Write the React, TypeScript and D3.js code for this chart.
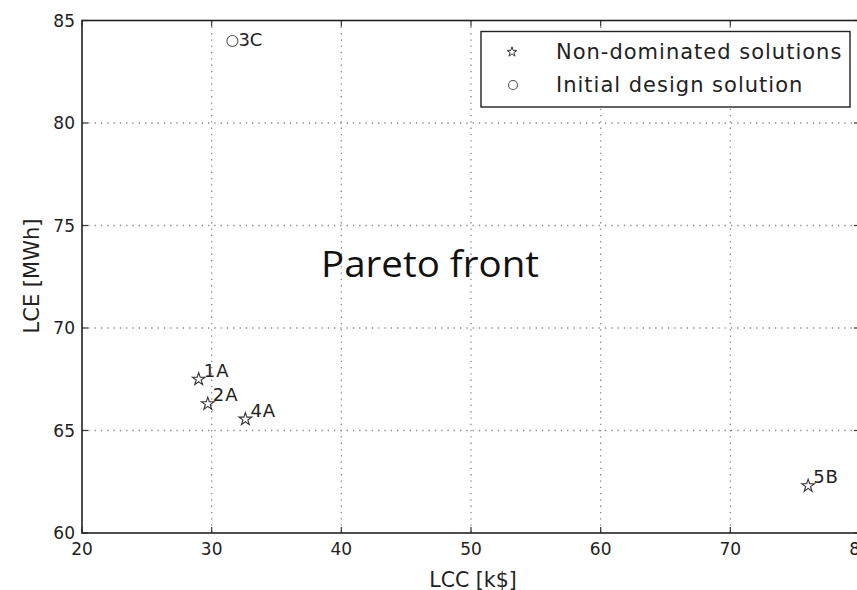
import React, { useEffect, useRef } from 'react';
import * as d3 from 'd3';

// solutions
const solutionLabels = ['1A', '2A', '4A', '5B'];
const lccValues = [29.0, 29.7, 32.6, 76.0];
const lceValues = [67.5, 66.3, 65.55, 62.3];

const initialLabels = ['3C'];
const initialLcc = [31.6];
const initialLce = [84.0];

const xTicks = [20, 30, 40, 50, 60, 70, 80];
const yTicks = [60, 65, 70, 75, 80, 85];

const W = 857;
const H = 590;

const App = () => {
    const ref = useRef<SVGSVGElement | null>(null);

    useEffect(() => {
        if (!ref.current) return;
        const svg = d3.select(ref.current);
        svg.selectAll('*').remove();

        const left = 82, top = 20.5, right = 860, bottom = 533;
        const x = d3.scaleLinear().domain([20, 80]).range([left, right]);
        const y = d3.scaleLinear().domain([60, 85]).range([bottom, top]);
        const font = '"DejaVu Sans", sans-serif';

        // dotted grid
        const grid = svg.append('g').attr('stroke', '#888').attr('stroke-width', 1.3)
            .attr('stroke-dasharray', '1.3,5');
        grid.selectAll('.gx').data(xTicks.slice(1, -1)).enter().append('line')
            .attr('x1', d => x(d)).attr('x2', d => x(d)).attr('y1', top).attr('y2', bottom);
        grid.selectAll('.gy').data(yTicks.slice(1, -1)).enter().append('line')
            .attr('y1', d => y(d)).attr('y2', d => y(d)).attr('x1', left).attr('x2', right);

        // inward ticks on all sides
        const ticks = svg.append('g').attr('stroke', '#333').attr('stroke-width', 1.2);
        xTicks.forEach(t => {
            ticks.append('line').attr('x1', x(t)).attr('x2', x(t)).attr('y1', bottom).attr('y2', bottom - 6);
            ticks.append('line').attr('x1', x(t)).attr('x2', x(t)).attr('y1', top).attr('y2', top + 6);
        });
        yTicks.forEach(t => {
            ticks.append('line').attr('y1', y(t)).attr('y2', y(t)).attr('x1', left).attr('x2', left + 6);
            ticks.append('line').attr('y1', y(t)).attr('y2', y(t)).attr('x1', right).attr('x2', right - 6);
        });

        // frame
        svg.append('rect').attr('x', left).attr('y', top)
            .attr('width', right - left).attr('height', bottom - top)
            .attr('fill', 'none').attr('stroke', '#222').attr('stroke-width', 1.6);

        // tick labels
        svg.append('g').selectAll('text').data(xTicks).enter().append('text')
            .attr('x', d => x(d)).attr('y', bottom + 22)
            .attr('text-anchor', 'middle').attr('font-family', font).attr('font-size', 17)
            .attr('fill', '#222').text(d => d);
        svg.append('g').selectAll('text').data(yTicks).enter().append('text')
            .attr('x', left - 7).attr('y', d => y(d) + 6.2)
            .attr('text-anchor', 'end').attr('font-family', font).attr('font-size', 17)
            .attr('fill', '#222').text(d => d);

        // axis titles
        svg.append('text').attr('x', 473).attr('y', 586.5).attr('text-anchor', 'middle')
            .attr('font-family', font).attr('font-size', 20.5).attr('fill', '#222').text('LCC [k$]');
        svg.append('text').attr('transform', 'translate(39,276) rotate(-90)')
            .attr('text-anchor', 'middle').attr('font-family', font).attr('font-size', 21)
            .attr('fill', '#222').text('LCE [MWh]');

        const star = d3.symbol().type(d3.symbolStar).size(50);

        // non-dominated solutions
        const pts = svg.append('g');
        lccValues.forEach((v, i) => {
            pts.append('path').attr('d', star()).attr('transform', `translate(${x(v)},${y(lceValues[i])})`)
                .attr('fill', 'white').attr('stroke', '#333').attr('stroke-width', 1.1);
            pts.append('text').attr('x', x(v) + 5).attr('y', y(lceValues[i]) - 2.6)
                .attr('font-family', font).attr('font-size', 18).attr('letter-spacing', 1)
                .attr('fill', '#222').text(solutionLabels[i]);
        });

        // initial design
        initialLcc.forEach((v, i) => {
            pts.append('circle').attr('cx', x(v)).attr('cy', y(initialLce[i])).attr('r', 5.5)
                .attr('fill', 'white').attr('stroke', '#555').attr('stroke-width', 1.1);
            pts.append('text').attr('x', x(v) + 6).attr('y', y(initialLce[i]) + 4.7)
                .attr('font-family', font).attr('font-size', 18).attr('fill', '#222')
                .text(initialLabels[i]);
        });

        // annotation
        svg.append('text').attr('transform', 'translate(321,276.5) scale(1.07,1)')
            .attr('font-family', '"Open Sans", sans-serif').attr('font-size', 36)
            .attr('fill', '#111').text('Pareto front');

        // legend
        const lg = svg.append('g');
        lg.append('rect').attr('x', 481).attr('y', 31.5).attr('width', 369).attr('height', 75.5)
            .attr('fill', 'white').attr('stroke', '#222').attr('stroke-width', 1.4);
        lg.append('path').attr('d', d3.symbol().type(d3.symbolStar).size(30)())
            .attr('transform', 'translate(512,52)').attr('fill', 'white').attr('stroke', '#333');
        lg.append('circle').attr('cx', 513).attr('cy', 85).attr('r', 4.5)
            .attr('fill', 'white').attr('stroke', '#555').attr('stroke-width', 1.1);
        lg.append('text').attr('x', 556).attr('y', 59).attr('font-family', font)
            .attr('font-size', 21).attr('letter-spacing', 1).attr('fill', '#222')
            .text('Non-dominated solutions');
        lg.append('text').attr('x', 556).attr('y', 91.7).attr('font-family', font)
            .attr('font-size', 21).attr('letter-spacing', 1).attr('fill', '#222')
            .text('Initial design solution');
    }, []);

    return (
        <svg ref={ref} width={W} height={H}
            style={{ position: 'absolute', left: 0, top: 0, background: 'white' }} />
    );
};

export default App;
